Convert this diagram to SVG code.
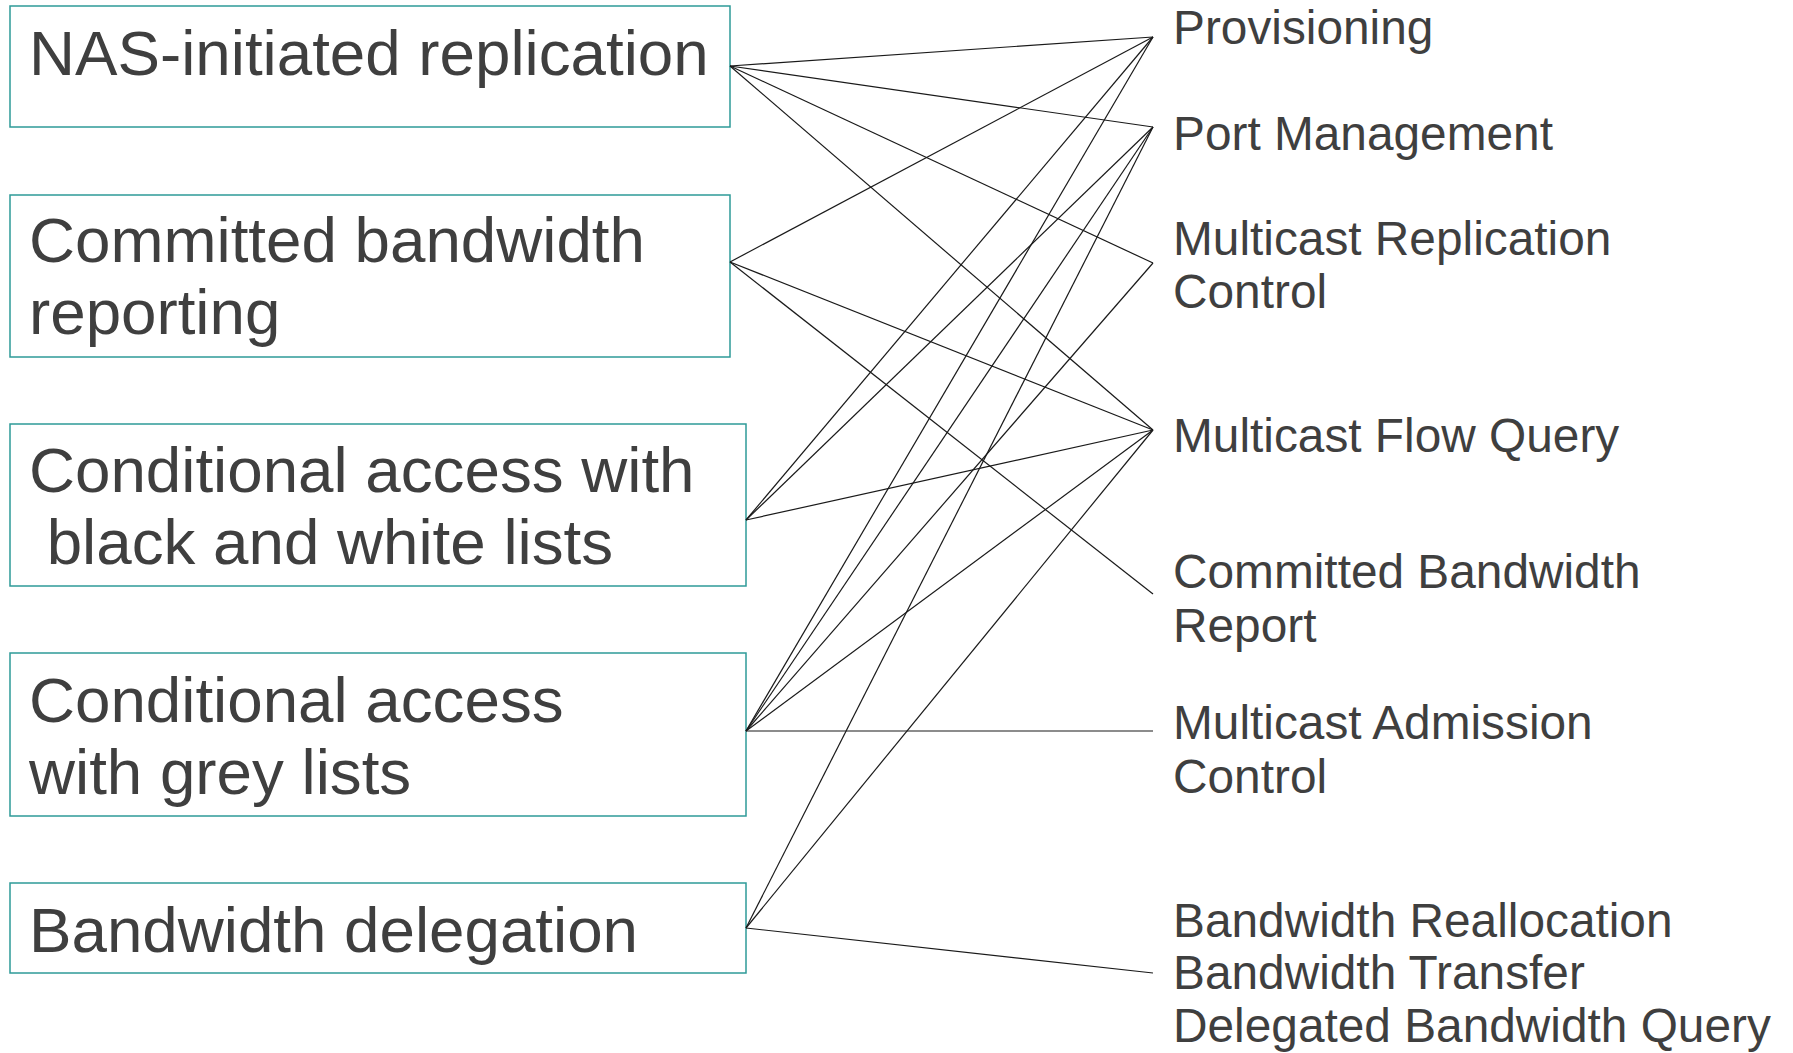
<svg xmlns="http://www.w3.org/2000/svg" width="1793" height="1053" viewBox="0 0 1793 1053">
<style>
.box{fill:#ffffff;stroke:#2e9a98;stroke-width:1.5}
.lt{font-family:"Liberation Sans",Arial,sans-serif;font-size:63.7px;fill:#3f3f3f;white-space:pre}
.rt{font-family:"Liberation Sans",Arial,sans-serif;font-size:47.8px;fill:#3f3f3f;white-space:pre}
.c{stroke:#1a1a1a;stroke-width:1.2;fill:none}
</style>
<rect width="1793" height="1053" fill="#ffffff"/>
<g id="n-nas">
<rect class="box" x="10" y="6" width="720" height="121"/>
<text class="lt" x="29" y="75">NAS-initiated replication</text>
</g>
<g id="n-cbr">
<rect class="box" x="10" y="195" width="720" height="162"/>
<text class="lt" x="29" y="262">Committed bandwidth</text>
<text class="lt" x="29" y="334">reporting</text>
</g>
<g id="n-cabw">
<rect class="box" x="10" y="424" width="736" height="162"/>
<text class="lt" x="29" y="492">Conditional access with</text>
<text class="lt" x="29" y="564" xml:space="preserve"> black and white lists</text>
</g>
<g id="n-cag">
<rect class="box" x="10" y="653" width="736" height="163"/>
<text class="lt" x="29" y="722">Conditional access</text>
<text class="lt" x="29" y="794">with grey lists</text>
</g>
<g id="n-bd">
<rect class="box" x="10" y="883" width="736" height="90"/>
<text class="lt" x="29" y="952">Bandwidth delegation</text>
</g>
<g id="r-prov"><text class="rt" x="1173" y="44">Provisioning</text></g>
<g id="r-port"><text class="rt" x="1173" y="150">Port Management</text></g>
<g id="r-mrc"><text class="rt" x="1173" y="255">Multicast Replication</text><text class="rt" x="1173" y="308">Control</text></g>
<g id="r-mfq"><text class="rt" x="1173" y="452">Multicast Flow Query</text></g>
<g id="r-cbrep"><text class="rt" x="1173" y="588">Committed Bandwidth</text><text class="rt" x="1173" y="642">Report</text></g>
<g id="r-mac"><text class="rt" x="1173" y="739">Multicast Admission</text><text class="rt" x="1173" y="793">Control</text></g>
<g id="r-bw"><text class="rt" x="1173" y="937">Bandwidth Reallocation</text><text class="rt" x="1173" y="989">Bandwidth Transfer</text><text class="rt" x="1173" y="1042">Delegated Bandwidth Query</text></g>
<g id="connectors">
<line class="c" x1="730" y1="66" x2="1153" y2="37"/>
<line class="c" x1="730" y1="66" x2="1153" y2="127"/>
<line class="c" x1="730" y1="66" x2="1153" y2="263"/>
<line class="c" x1="730" y1="66" x2="1153" y2="430"/>
<line class="c" x1="730" y1="262" x2="1153" y2="37"/>
<line class="c" x1="730" y1="262" x2="1153" y2="430"/>
<line class="c" x1="730" y1="262" x2="1153" y2="594"/>
<line class="c" x1="746" y1="520" x2="1153" y2="37"/>
<line class="c" x1="746" y1="520" x2="1153" y2="127"/>
<line class="c" x1="746" y1="520" x2="1153" y2="430"/>
<line class="c" x1="746" y1="731" x2="1153" y2="37"/>
<line class="c" x1="746" y1="731" x2="1153" y2="127"/>
<line class="c" x1="746" y1="731" x2="1153" y2="263"/>
<line class="c" x1="746" y1="731" x2="1153" y2="430"/>
<line class="c" x1="746" y1="731" x2="1153" y2="731"/>
<line class="c" x1="746" y1="928" x2="1153" y2="127"/>
<line class="c" x1="746" y1="928" x2="1153" y2="430"/>
<line class="c" x1="746" y1="928" x2="1153" y2="973"/>
</g>
</svg>
